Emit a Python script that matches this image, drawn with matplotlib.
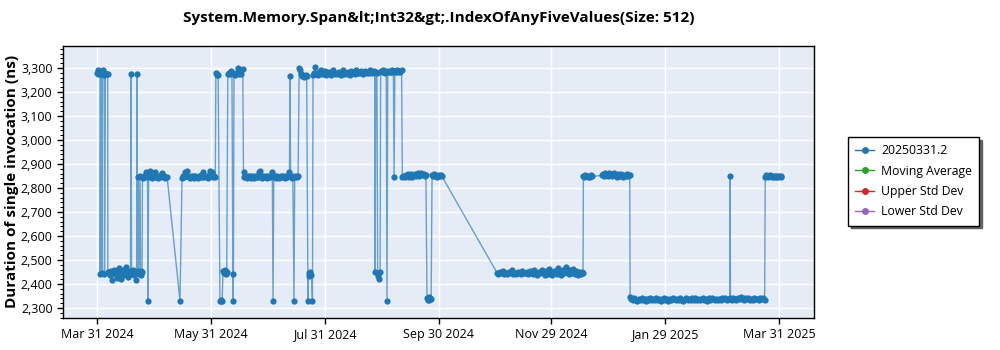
"""Duration of single invocation over time for one benchmark, with legend outside the plot."""

import matplotlib

matplotlib.use("Agg")

import matplotlib.dates as mdates
import matplotlib.pyplot as plt
import numpy as np
import pandas as pd
from matplotlib.lines import Line2D
from matplotlib.ticker import FuncFormatter, MultipleLocator

plt.rcParams["font.family"] = ["Open Sans", "DejaVu Sans"]

TITLE = "System.Memory.Span&lt;Int32&gt;.IndexOfAnyFiveValues(Size: 512)"
Y_LABEL = "Duration of single invocation (ns)"
SERIES_NAME = "20250331.2"
LEGEND_NAMES = [SERIES_NAME, "Moving Average", "Upper Std Dev", "Lower Std Dev"]
LEGEND_COLORS = ["#1f77b4", "#2ca02c", "#d62728", "#9467bd"]

START_DATE = "2024-03-31"
TICK_DATES = ["2024-03-31", "2024-05-31", "2024-07-31", "2024-09-30",
              "2024-11-29", "2025-01-29", "2025-03-31"]
X_RANGE = ["2024-03-12 19:00", "2025-04-18 17:00"]
Y_RANGE = [2258, 3392]

# (days after START_DATE, ns), in time order
POINTS = [
    # early: 3,275 level alternating with 2,445
    (0.0, 3280), (0.3, 3292), (0.7, 3275), (1.1, 3288), (1.6, 3276), (1.7, 2440),
    (2.0, 3280), (2.5, 3274), (2.6, 2445), (3.0, 3290), (3.5, 3276), (3.9, 3272),
    (4.0, 2442), (4.5, 3278), (5.2, 3274), (5.7, 3276), (5.8, 2448),
    # 2,445 level
    (6.2, 2450), (6.8, 2438), (7.4, 2455), (7.9, 2416), (8.5, 2446), (9.0, 2460),
    (9.6, 2442), (10.1, 2452), (10.7, 2425), (11.2, 2448), (11.8, 2465), (12.3, 2430),
    (12.9, 2420), (13.4, 2445), (14.0, 2456), (14.6, 2438), (15.1, 2450), (15.7, 2470),
    (16.2, 2442), (16.8, 2430), (17.4, 2452), (17.9, 2445), (18.2, 3275), (18.5, 2440),
    (19.0, 2458), (19.6, 2436), (20.1, 2450), (20.7, 2418), (21.2, 2446), (21.4, 3273),
    (21.7, 2455), (22.1, 2845), (22.4, 2440), (23.0, 2848), (23.3, 2452), (23.8, 2436),
    (24.1, 2448), (24.3, 2845),
    # 2,845 level
    (24.8, 2842), (25.4, 2850), (26.0, 2868), (26.5, 2846), (27.0, 2852), (27.3, 2330),
    (27.6, 2844), (28.2, 2870), (28.8, 2848), (29.4, 2843), (30.0, 2851), (30.6, 2846),
    (31.2, 2868), (31.8, 2845), (32.4, 2840), (33.0, 2849), (33.6, 2844), (34.2, 2852),
    (34.8, 2862), (35.4, 2845), (36.0, 2848), (36.6, 2842), (37.5, 2846),
    (44.4, 2330), (45.5, 2842),
    (46.0, 2848), (46.6, 2844), (47.2, 2866), (47.8, 2850), (48.4, 2872), (49.0, 2846),
    (49.6, 2842), (50.2, 2850), (50.8, 2845), (51.4, 2848), (52.0, 2843), (52.6, 2851),
    (53.2, 2846), (53.8, 2842), (54.4, 2849), (55.0, 2845), (55.6, 2852), (56.2, 2847),
    (56.8, 2868), (57.4, 2844), (58.0, 2850), (58.6, 2846), (59.2, 2843), (59.8, 2855),
    (60.4, 2872), (61.0, 2848), (61.6, 2866), (62.2, 2845), (62.8, 2850), (63.3, 2846),
    (63.6, 3278), (64.0, 3272), (64.4, 3275), (64.8, 3270),
    (65.8, 2330), (66.2, 2328), (66.6, 2332), (67.0, 2330), (67.4, 2452), (67.9, 2444),
    (68.4, 2456), (68.9, 2440), (69.4, 2448),
    (70.0, 3276), (70.5, 3280), (71.0, 3274), (71.6, 3286), (72.2, 3278), (72.8, 2330),
    (73.0, 2440), (73.3, 3276), (73.9, 3272), (74.5, 3280), (75.3, 3300), (75.9, 3275),
    (76.5, 3282), (77.1, 3274), (78.0, 3294),
    (78.4, 2845), (78.8, 2868), (79.4, 2846), (80.0, 2842), (80.6, 2849), (81.2, 2845),
    (81.8, 2851), (82.4, 2843), (83.0, 2848), (83.6, 2846), (84.2, 2842), (84.8, 2850),
    (85.4, 2845), (86.0, 2847), (86.6, 2866), (87.2, 2872), (87.8, 2846), (88.4, 2843),
    (89.0, 2850), (89.6, 2845), (90.2, 2848), (90.8, 2842), (91.4, 2851), (92.0, 2846),
    (92.6, 2844), (93.2, 2849), (93.8, 2866), (94.2, 2330), (94.6, 2845), (95.2, 2848),
    (95.8, 2843), (96.4, 2850), (97.0, 2846), (97.6, 2842), (98.2, 2849), (98.8, 2845),
    (99.4, 2851), (100.0, 2846), (100.6, 2843), (101.2, 2848), (101.8, 2845), (102.4, 2850),
    (103.0, 2868), (103.3, 3267), (103.6, 2846), (104.2, 2843), (104.8, 2849), (105.4, 2330),
    (105.8, 2846), (106.4, 2850), (107.0, 2845), (107.6, 2848),
    # 3,280 level
    (108.2, 3300), (108.7, 3290), (109.2, 3275), (109.8, 3268), (110.4, 3272), (111.0, 3264),
    (111.6, 3270), (112.2, 3266), (112.9, 2330), (113.2, 2445), (113.7, 2432), (114.2, 2450),
    (114.7, 2438), (115.3, 2330), (115.6, 3272),
    (116.2, 3280), (116.8, 3305), (117.4, 3276), (118.0, 3272), (118.6, 3284), (119.2, 3278),
    (119.8, 3290), (120.4, 3274), (121.0, 3280), (121.6, 3276), (122.2, 3286), (122.8, 3272),
    (123.4, 3279), (124.0, 3283), (124.6, 3275), (125.2, 3270), (125.8, 3281), (126.4, 3292),
    (127.0, 3277), (127.6, 3273), (128.2, 3280), (128.8, 3275), (129.4, 3285), (130.0, 3278),
    (130.6, 3272), (131.2, 3282), (131.8, 3290), (132.4, 3276), (133.0, 3280), (133.6, 3274),
    (134.2, 3284), (134.8, 3279), (135.4, 3272), (136.0, 3286), (136.6, 3278), (137.2, 3282),
    (137.8, 3275), (138.4, 3290), (139.0, 3280), (139.6, 3277), (140.2, 3284), (140.8, 3279),
    (141.4, 3286), (142.0, 3281), (142.6, 3276), (143.2, 3288), (143.8, 3282), (144.4, 3279),
    (145.0, 3285), (145.6, 3280), (146.2, 3290), (146.8, 3283), (147.4, 3279), (148.0, 3286),
    (148.6, 3282), (148.8, 2450), (149.2, 3284), (149.8, 3280), (150.2, 2435), (150.6, 2445),
    (151.0, 2420), (151.5, 2448), (151.8, 3286), (152.4, 3282), (153.0, 3290), (153.6, 3284),
    (154.2, 3280), (154.8, 3287), (155.2, 2330), (155.6, 3283), (156.2, 3288), (156.8, 3281),
    (157.4, 3285), (158.0, 3290), (158.6, 3283), (159.0, 2846), (159.4, 3286), (160.0, 3282),
    (160.6, 3291), (161.2, 3284), (161.8, 3288), (162.4, 3285), (163.0, 3290),
    # back to 2,850
    (163.4, 2846), (164.0, 2850), (164.6, 2844), (165.2, 2852), (165.8, 2848), (166.4, 2856),
    (167.0, 2845), (167.6, 2850), (168.2, 2858), (168.8, 2847), (169.4, 2852), (170.0, 2860),
    (170.6, 2849), (171.2, 2855), (171.8, 2862), (172.4, 2850), (173.0, 2857), (173.6, 2864),
    (174.2, 2852), (174.8, 2858), (175.4, 2850), (176.0, 2855), (176.6, 2340),
    (177.0, 2335), (177.4, 2345), (177.8, 2332), (178.3, 2340), (178.8, 2338),
    (179.3, 2852), (179.8, 2848), (180.4, 2856), (181.0, 2850), (181.6, 2854), (182.2, 2847),
    (182.8, 2852), (183.4, 2849), (184.0, 2853), (184.6, 2848),
    # 2,445 level
    (214.1, 2446), (214.8, 2440), (215.6, 2448), (216.4, 2444), (217.2, 2452), (218.0, 2442),
    (218.8, 2446), (219.6, 2440), (220.4, 2450), (221.2, 2445), (222.0, 2458), (222.8, 2443),
    (223.6, 2447), (224.4, 2441), (225.2, 2450), (226.0, 2446), (226.8, 2442), (227.6, 2455),
    (228.4, 2447), (229.2, 2444), (230.0, 2449), (230.8, 2441), (231.6, 2453), (232.4, 2446),
    (233.2, 2442), (234.0, 2458), (234.8, 2445), (235.6, 2438), (236.4, 2450), (237.2, 2444),
    (238.0, 2460), (238.8, 2447), (239.6, 2436), (240.4, 2452), (241.2, 2443), (242.0, 2462),
    (242.8, 2448), (243.6, 2437), (244.4, 2455), (245.2, 2446), (246.0, 2440), (246.8, 2465),
    (247.6, 2450), (248.4, 2438), (249.2, 2456), (250.0, 2445), (250.8, 2470), (251.6, 2450),
    (252.4, 2440), (253.2, 2458), (254.0, 2447), (254.8, 2462), (255.6, 2443), (256.4, 2452),
    (257.2, 2438), (258.0, 2448), (258.8, 2440), (259.6, 2450), (260.1, 2446),
    # 2,850 level
    (260.3, 2850), (260.8, 2846), (261.4, 2852), (262.0, 2848), (262.6, 2845), (263.2, 2850),
    (263.8, 2847), (264.4, 2853), (264.9, 2848),
    (270.3, 2852), (270.9, 2858), (271.5, 2850), (272.1, 2862), (272.7, 2855), (273.3, 2849),
    (273.9, 2864), (274.5, 2852), (275.1, 2858), (275.7, 2848), (276.3, 2855), (276.9, 2862),
    (277.5, 2850), (278.1, 2846), (278.7, 2856), (279.3, 2851), (279.9, 2848), (280.5, 2860),
    (281.1, 2853), (281.7, 2847), (282.3, 2855), (282.9, 2850), (283.5, 2858), (284.1, 2849),
    (284.7, 2855), (285.1, 2852),
    # 2,335 level
    (285.3, 2346), (285.8, 2338), (286.6, 2332), (287.4, 2340), (288.2, 2335), (289.0, 2330),
    (289.8, 2338), (290.6, 2334), (291.4, 2341), (292.2, 2333), (293.0, 2337), (293.8, 2330),
    (294.6, 2339), (295.4, 2335), (296.2, 2342), (297.0, 2332), (297.8, 2336), (298.6, 2331),
    (299.4, 2340), (300.2, 2334), (301.0, 2338), (301.8, 2329), (302.6, 2336), (303.4, 2341),
    (304.2, 2333), (305.0, 2337), (305.8, 2330), (306.6, 2339), (307.4, 2334), (308.2, 2342),
    (309.0, 2336), (309.8, 2331), (310.6, 2338), (311.4, 2333), (312.2, 2340), (313.0, 2335),
    (313.8, 2330), (314.6, 2338), (315.4, 2343), (316.2, 2334), (317.0, 2337), (317.8, 2331),
    (318.6, 2340), (319.4, 2335), (320.2, 2342), (321.0, 2333), (321.8, 2338), (322.6, 2331),
    (323.4, 2336), (324.2, 2341), (325.0, 2334), (325.8, 2338), (326.6, 2327), (327.4, 2340),
    (328.2, 2335), (329.0, 2343), (329.8, 2336), (330.6, 2331), (331.4, 2339), (332.2, 2334),
    (333.0, 2338), (333.8, 2332), (334.6, 2340), (335.4, 2336), (336.2, 2342), (337.0, 2334),
    (337.8, 2338), (338.6, 2336), (338.8, 2850), (339.0, 2340), (339.8, 2335), (340.6, 2342),
    (341.4, 2338), (342.2, 2333), (343.0, 2340), (343.8, 2336), (344.6, 2344), (345.4, 2338),
    (346.2, 2334), (347.0, 2341), (347.8, 2337), (348.6, 2343), (349.4, 2335), (350.2, 2339),
    (351.0, 2334), (351.8, 2341), (352.6, 2336), (353.4, 2339), (354.2, 2333), (355.0, 2340),
    (355.8, 2336), (356.6, 2342), (357.3, 2332),
    # last run at 2,848
    (357.6, 2845), (358.1, 2852), (358.6, 2848), (359.2, 2844), (359.8, 2850), (360.4, 2853),
    (361.0, 2846), (361.6, 2849), (362.2, 2844), (362.8, 2851), (363.4, 2847), (364.0, 2850),
    (364.6, 2845), (365.2, 2849), (365.8, 2846), (366.2, 2848),
]


def main() -> None:
    days = np.array([p[0] for p in POINTS])
    values = np.array([p[1] for p in POINTS])
    dates = pd.Timestamp(START_DATE) + pd.to_timedelta(days, unit="D")

    fig = plt.figure(figsize=(10, 3.5), dpi=100)
    ax = fig.add_axes([0.063, 0.0914, 0.751, 0.7776])
    ax.set_facecolor("#E5ECF6")

    # lighter connecting line, solid markers on top
    ax.plot(dates, values, color=LEGEND_COLORS[0], linewidth=1, alpha=0.65, zorder=3)
    ax.plot(dates, values, linestyle="none", marker="o", markersize=4.5,
            markeredgewidth=0, color=LEGEND_COLORS[0], zorder=4)

    ax.set_xlim(pd.Timestamp(X_RANGE[0]), pd.Timestamp(X_RANGE[1]))
    ax.set_ylim(*Y_RANGE)

    ax.set_xticks([pd.Timestamp(d) for d in TICK_DATES])
    ax.xaxis.set_major_formatter(mdates.DateFormatter("%b %d %Y"))
    ax.yaxis.set_major_locator(MultipleLocator(100))
    ax.yaxis.set_minor_locator(MultipleLocator(20))
    ax.yaxis.set_major_formatter(FuncFormatter(lambda v, _: f"{v:,.0f}"))
    ax.tick_params(axis="both", labelsize=9, length=4, width=1, color="black")
    ax.tick_params(axis="y", which="minor", length=2, width=0.8)

    ax.grid(True, which="major", color="white", linewidth=1, zorder=0)
    ax.set_axisbelow(True)
    for side in ax.spines.values():
        side.set_color("black")
        side.set_linewidth(1)

    ax.set_ylabel(Y_LABEL, fontsize=11, fontweight="bold")
    ax.yaxis.set_label_coords(-0.058, 0.5)
    fig.text(0.4385, 0.948, TITLE, ha="center", va="center", fontsize=11, fontweight="bold")

    handles = [Line2D([], [], color=c, linewidth=1, marker="o", markersize=4) for c in LEGEND_COLORS]
    leg = fig.legend(handles, LEGEND_NAMES, loc="upper left", bbox_to_anchor=(0.848, 0.609),
                     borderaxespad=0, fontsize=8.8, frameon=True, fancybox=False,
                     shadow={"color": "#555555", "alpha": 0.9}, handlelength=1.5,
                     handletextpad=0.6, borderpad=0.6, labelspacing=0.6)
    leg.get_frame().set_edgecolor("black")
    leg.get_frame().set_linewidth(1)

    fig.savefig("out.png", dpi=100)


if __name__ == "__main__":
    main()
